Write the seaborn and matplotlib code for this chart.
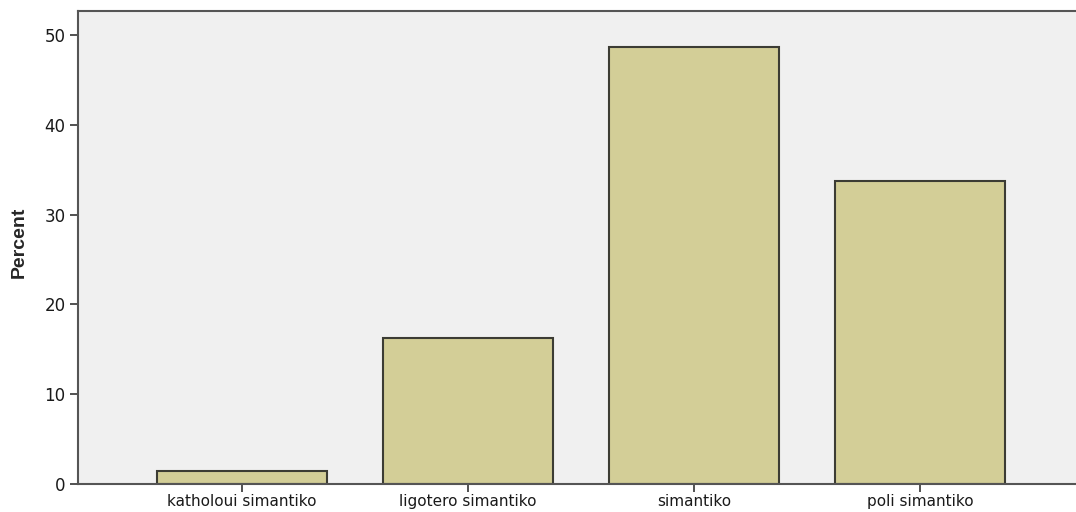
import matplotlib
matplotlib.use("Agg")
import matplotlib.pyplot as plt
import seaborn as sns
import pandas as pd

categories = ["katholoui simantiko", "ligotero simantiko", "simantiko", "poli simantiko"]
percent = [1.4, 16.3, 48.7, 33.8]
yticks = [0, 10, 20, 30, 40, 50]

df = pd.DataFrame({"cat": categories, "pct": percent})

sns.set_style("white")
plt.rcParams['font.family'] = ['DejaVu Sans']

fig = plt.figure(figsize=(10.76, 5.12), dpi=100)
ax = fig.add_axes([78/1076, 1 - 484/512, 1 - 78/1076, (484 - 11)/512])
ax.set_facecolor("#f0f0f0")

sns.barplot(data=df, x="cat", y="pct", color="#d3ce97", saturation=1,
            width=0.75, edgecolor="#3c3c34", linewidth=1.5, ax=ax)

ax.set_xlim(-0.726, 3.69)
ax.set_ylim(0, 52.7)
ax.set_yticks(yticks)
ax.set_xlabel("")
ax.set_ylabel("Percent", fontsize=14, fontweight="bold",
              family=['Liberation Sans', 'DejaVu Sans'])
ax.yaxis.set_label_coords(-0.050, 0.51)
ax.tick_params(axis="both", which="both", direction="out", length=6, width=1.2,
               color="#333333", labelcolor="#1a1a1a", left=True, bottom=True)
ax.tick_params(axis="y", labelsize=12, pad=3)
ax.tick_params(axis="x", labelsize=11, pad=1.5)
for side in ["left", "bottom", "top"]:
    ax.spines[side].set_visible(True)
    ax.spines[side].set_color("#555555")
    ax.spines[side].set_linewidth(1.5)
ax.spines["right"].set_visible(False)

fig.savefig("out.png", dpi=100)
